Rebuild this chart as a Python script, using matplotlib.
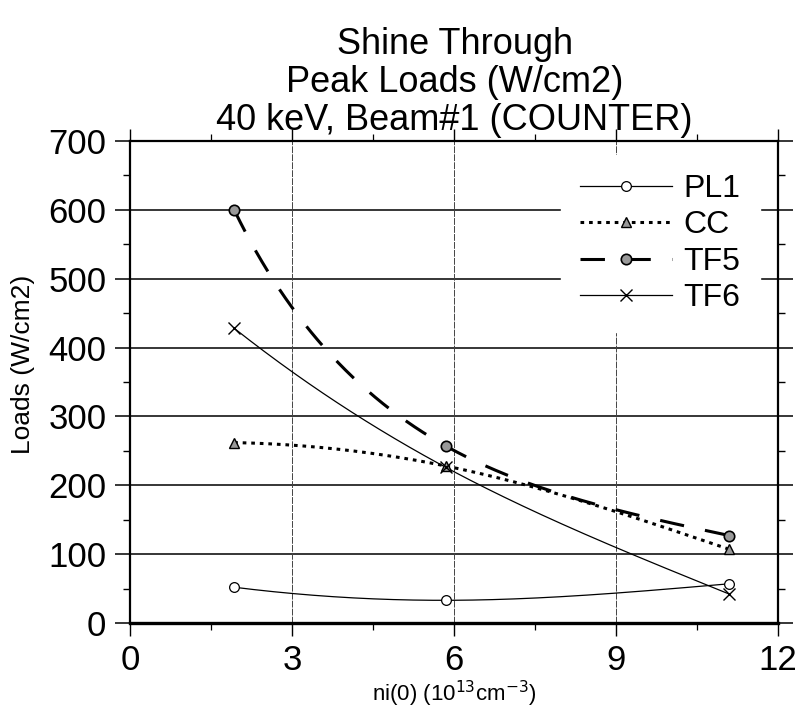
import numpy as np
import matplotlib
matplotlib.use('Agg')
import matplotlib.pyplot as plt
from matplotlib.ticker import MultipleLocator

# values
ni0 = [1.93, 5.85, 11.1]
pl1 = [52, 33, 57]
cc = [262, 228, 107]
tf5 = [600, 257, 127]
tf6 = [428, 226, 42]

title_lines = ['Shine Through', 'Peak Loads (W/cm2)', '40 keV, Beam#1 (COUNTER)']

plt.rcParams['font.family'] = ['Liberation Sans', 'DejaVu Sans']


def cubic_spline(t, y, tt):
    # cubic spline, parabolic run-out at the start and natural at the end;
    # only used to draw the curve between the measured points
    t = np.asarray(t, float)
    y = np.asarray(y, float)
    n = len(t)
    h = np.diff(t)
    s = np.diff(y) / h
    A = np.zeros((n, n))
    b = np.zeros(n)
    A[0, 0], A[0, 1] = 1, -1
    A[-1, -1] = 1
    for i in range(1, n - 1):
        A[i, i - 1] = h[i - 1]
        A[i, i] = 2 * (h[i - 1] + h[i])
        A[i, i + 1] = h[i]
        b[i] = 6 * (s[i] - s[i - 1])
    M = np.linalg.solve(A, b)
    i = np.clip(np.searchsorted(t, tt) - 1, 0, n - 2)
    hi = h[i]
    a = t[i + 1] - tt
    c = tt - t[i]
    return (M[i] * a**3 / (6 * hi) + M[i + 1] * c**3 / (6 * hi)
            + (y[i] / hi - M[i] * hi / 6) * a + (y[i + 1] / hi - M[i + 1] * hi / 6) * c)


def smooth(ax, xs, ys, n=300):
    # parametric spline in screen space, like the old plotting package did
    pts = ax.transData.transform(np.column_stack([xs, ys]))
    d = np.hypot(*np.diff(pts, axis=0).T)
    t = np.concatenate([[0], np.cumsum(d)])
    tt = np.linspace(0, t[-1], n)
    px = cubic_spline(t, pts[:, 0], tt)
    py = cubic_spline(t, pts[:, 1], tt)
    out = ax.transData.inverted().transform(np.column_stack([px, py]))
    return out[:, 0], out[:, 1]


fig = plt.figure(figsize=(8.02, 7.08), dpi=100)
ax = fig.add_axes([0.162, 0.120, 0.808, 0.681])
ax.set_xlim(0, 12)
ax.set_ylim(0, 700)

# grid
for v in range(100, 700, 100):
    ax.axhline(v, color='black', lw=1.1, zorder=1)
for v in [3, 6, 9]:
    ax.axvline(v, color='#444444', lw=0.7, ls=(0, (7, 1.2)), zorder=1)

series = [
    ('PL1', pl1, dict(color='black', lw=0.9, ls='-'),
     dict(marker='o', ms=7, mfc='white', mec='black', mew=0.9)),
    ('CC', cc, dict(color='black', lw=2.2, ls=(0, (1.2, 1.6))),
     dict(marker='^', ms=6.5, mfc='#999999', mec='black', mew=1.0)),
    ('TF5', tf5, dict(color='black', lw=2.2, ls=(0, (8, 7))),
     dict(marker='o', ms=7.5, mfc='#999999', mec='black', mew=1.2)),
    ('TF6', tf6, dict(color='black', lw=0.9, ls='-'),
     dict(marker='x', ms=8, mfc='none', mec='black', mew=1.0)),
]

handles = []
for name, ys, lstyle, mstyle in series:
    sx, sy = smooth(ax, ni0, ys)
    ax.plot(sx, sy, zorder=3, **lstyle)
    ax.plot(ni0, ys, ls='none', zorder=4, **mstyle)
    h, = ax.plot([], [], label=name, **lstyle, **mstyle)
    handles.append(h)

# white box with no edge, hides the grid behind the entries
leg = ax.legend(handles=handles, loc='upper right', bbox_to_anchor=(0.972, 0.971),
                fontsize=23, frameon=True, fancybox=False, framealpha=1,
                facecolor='white', edgecolor='white', handlelength=2.9,
                handletextpad=0.35, labelspacing=0.2, borderpad=0.6,
                numpoints=1, borderaxespad=0)
leg.set_zorder(2)

# axes frame and ticks
for side in ['left', 'right', 'top']:
    ax.spines[side].set_linewidth(1.6)
ax.spines['bottom'].set_linewidth(2.4)

ax.xaxis.set_major_locator(MultipleLocator(3))
ax.xaxis.set_minor_locator(MultipleLocator(1.5))
ax.yaxis.set_major_locator(MultipleLocator(100))
ax.yaxis.set_minor_locator(MultipleLocator(50))
ax.tick_params(axis='y', which='major', direction='out', length=11, width=1.1,
               left=True, right=True, labelsize=25, pad=6)
ax.tick_params(axis='y', which='minor', direction='out', length=5, width=1.0,
               left=True, right=True)
ax.tick_params(axis='x', which='major', direction='out', length=9, width=1.0,
               bottom=True, top=True, labelsize=25, pad=6)
ax.tick_params(axis='x', which='minor', direction='out', length=5, width=0.9,
               bottom=True, top=True)

ax.set_ylabel('Loads (W/cm2)', fontsize=19)
ax.yaxis.set_label_coords(-0.147, 375 / 700)
fig.text(0.567, 0.02, r'ni(0) (10$^{13}$cm$^{-3}$)', fontsize=16,
         ha='center', va='center')

for y, line in zip([0.937, 0.883, 0.830], title_lines):
    fig.text(0.567, y, line, fontsize=26, ha='center', va='center')

fig.savefig('out.png', dpi=100)
